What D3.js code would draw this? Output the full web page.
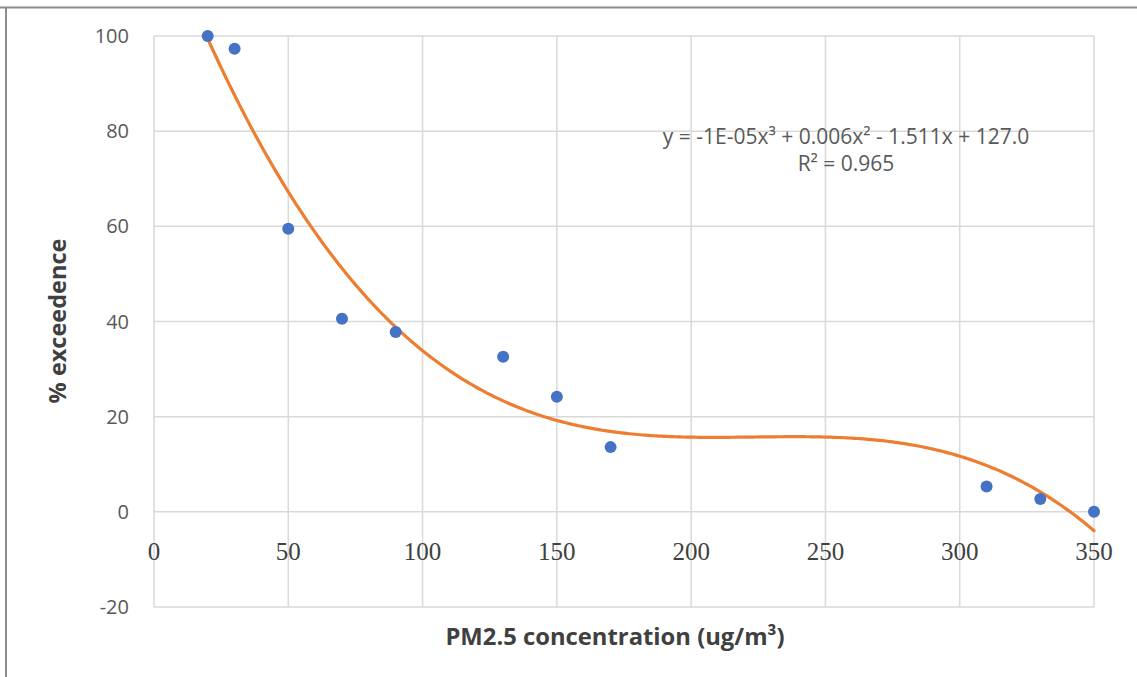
<!DOCTYPE html>
<html>
<head>
<meta charset="utf-8">
<script src="https://cdn.jsdelivr.net/npm/d3@7"></script>
<style>
  html, body { margin: 0; padding: 0; background: #fff; }
  svg { display: block; }
</style>
</head>
<body>
<svg id="chart" width="1137" height="677"></svg>
<script>
// PM2.5 concentration (ug/m³) against % exceedence
const concentration = [20, 30, 50, 70, 90, 130, 150, 170, 310, 330, 350];
const exceedence    = [100, 97.3, 59.5, 40.6, 37.8, 32.6, 24.2, 13.6, 5.3, 2.7, 0];

const xTicks = [0, 50, 100, 150, 200, 250, 300, 350];
const yTicks = [-20, 0, 20, 40, 60, 80, 100];

const equationLines = ["y = -1E-05x³ + 0.006x² - 1.511x + 127.0", "R² = 0.965"];

const svg = d3.select("#chart");
const W = 1137, H = 677;
const plot = { left: 154, right: 1094, top: 36, bottom: 607 };

const x = d3.scaleLinear().domain([0, 350]).range([plot.left, plot.right]);
const y = d3.scaleLinear().domain([-20, 100]).range([plot.bottom, plot.top]);

// outer frame (top and left edges)
svg.append("line").attr("x1", 0).attr("x2", W).attr("y1", 7.5).attr("y2", 7.5)
  .attr("stroke", "#8c8c8c").attr("stroke-width", 2);
svg.append("line").attr("x1", 6).attr("x2", 6).attr("y1", 7).attr("y2", H)
  .attr("stroke", "#8c8c8c").attr("stroke-width", 2);

// gridlines
const grid = svg.append("g").attr("stroke", "#d9d9d9").attr("stroke-width", 1.5);
grid.selectAll("line.v").data(xTicks).join("line")
  .attr("x1", d => x(d)).attr("x2", d => x(d))
  .attr("y1", plot.top).attr("y2", plot.bottom);
grid.selectAll("line.h").data(yTicks).join("line")
  .attr("x1", plot.left).attr("x2", plot.right)
  .attr("y1", d => y(d)).attr("y2", d => y(d));

// y axis labels
svg.append("g").selectAll("text").data(yTicks).join("text")
  .attr("x", plot.left - 25).attr("y", d => y(d))
  .attr("dy", "0.35em").attr("text-anchor", "end")
  .attr("font-family", "'Open Sans', sans-serif").attr("font-size", 20)
  .attr("fill", "#595959").text(d => d);

// x axis labels (sit just under the zero line)
svg.append("g").selectAll("text").data(xTicks).join("text")
  .attr("x", d => x(d)).attr("y", 551)
  .attr("dy", "0.35em").attr("text-anchor", "middle")
  .attr("font-family", "'Liberation Serif', serif").attr("font-size", 25)
  .attr("fill", "#404040").text(d => d);

// polynomial (order 3) least-squares trendline
function polyFit(xs, ys, order) {
  const n = order + 1;
  const A = Array.from({ length: n }, () => new Array(n + 1).fill(0));
  for (let i = 0; i < xs.length; i++) {
    for (let r = 0; r < n; r++) {
      for (let c = 0; c < n; c++) A[r][c] += Math.pow(xs[i], r + c);
      A[r][n] += ys[i] * Math.pow(xs[i], r);
    }
  }
  for (let p = 0; p < n; p++) {
    let best = p;
    for (let r = p + 1; r < n; r++) {
      if (Math.abs(A[r][p]) > Math.abs(A[best][p])) best = r;
    }
    const tmp = A[p]; A[p] = A[best]; A[best] = tmp;
    for (let r = 0; r < n; r++) {
      if (r === p) continue;
      const f = A[r][p] / A[p][p];
      for (let c = p; c <= n; c++) A[r][c] -= f * A[p][c];
    }
  }
  return A.map((row, i) => row[n] / row[i]);
}
const coef = polyFit(concentration, exceedence, 3);
const trend = v => coef[0] + coef[1] * v + coef[2] * v * v + coef[3] * v * v * v;
const xMin = d3.min(concentration), xMax = d3.max(concentration);
const trendPts = d3.range(xMin, xMax + 0.01, 1).map(v => [v, trend(v)]);

svg.append("path").datum(trendPts)
  .attr("d", d3.line().x(d => x(d[0])).y(d => y(d[1])))
  .attr("fill", "none").attr("stroke", "#ED7D31").attr("stroke-width", 3.2)
  .attr("stroke-linecap", "round");

// data points
svg.append("g").selectAll("circle").data(concentration).join("circle")
  .attr("cx", d => x(d)).attr("cy", (d, i) => y(exceedence[i]))
  .attr("r", 6).attr("fill", "#4472C4");

// trendline equation, one text per line
svg.append("g").selectAll("text").data(equationLines).join("text")
  .attr("x", 846).attr("y", (d, i) => 137 + i * 27)
  .attr("dy", "0.35em").attr("text-anchor", "middle")
  .attr("font-family", "'Open Sans', sans-serif").attr("font-size", 21)
  .attr("fill", "#595959").text(d => d);

// axis titles
svg.append("text").attr("x", 615).attr("y", 637).attr("dy", "0.35em")
  .attr("text-anchor", "middle").attr("font-family", "'Open Sans', sans-serif")
  .attr("font-size", 23.8).attr("font-weight", "bold").attr("fill", "#404040")
  .text("PM2.5 concentration (ug/m³)");
svg.append("text").attr("transform", "translate(58,321) rotate(-90)")
  .attr("dy", "0.35em").attr("text-anchor", "middle")
  .attr("font-family", "'Open Sans', sans-serif")
  .attr("font-size", 23.5).attr("font-weight", "bold").attr("fill", "#404040")
  .text("% exceedence");
</script>
</body>
</html>
